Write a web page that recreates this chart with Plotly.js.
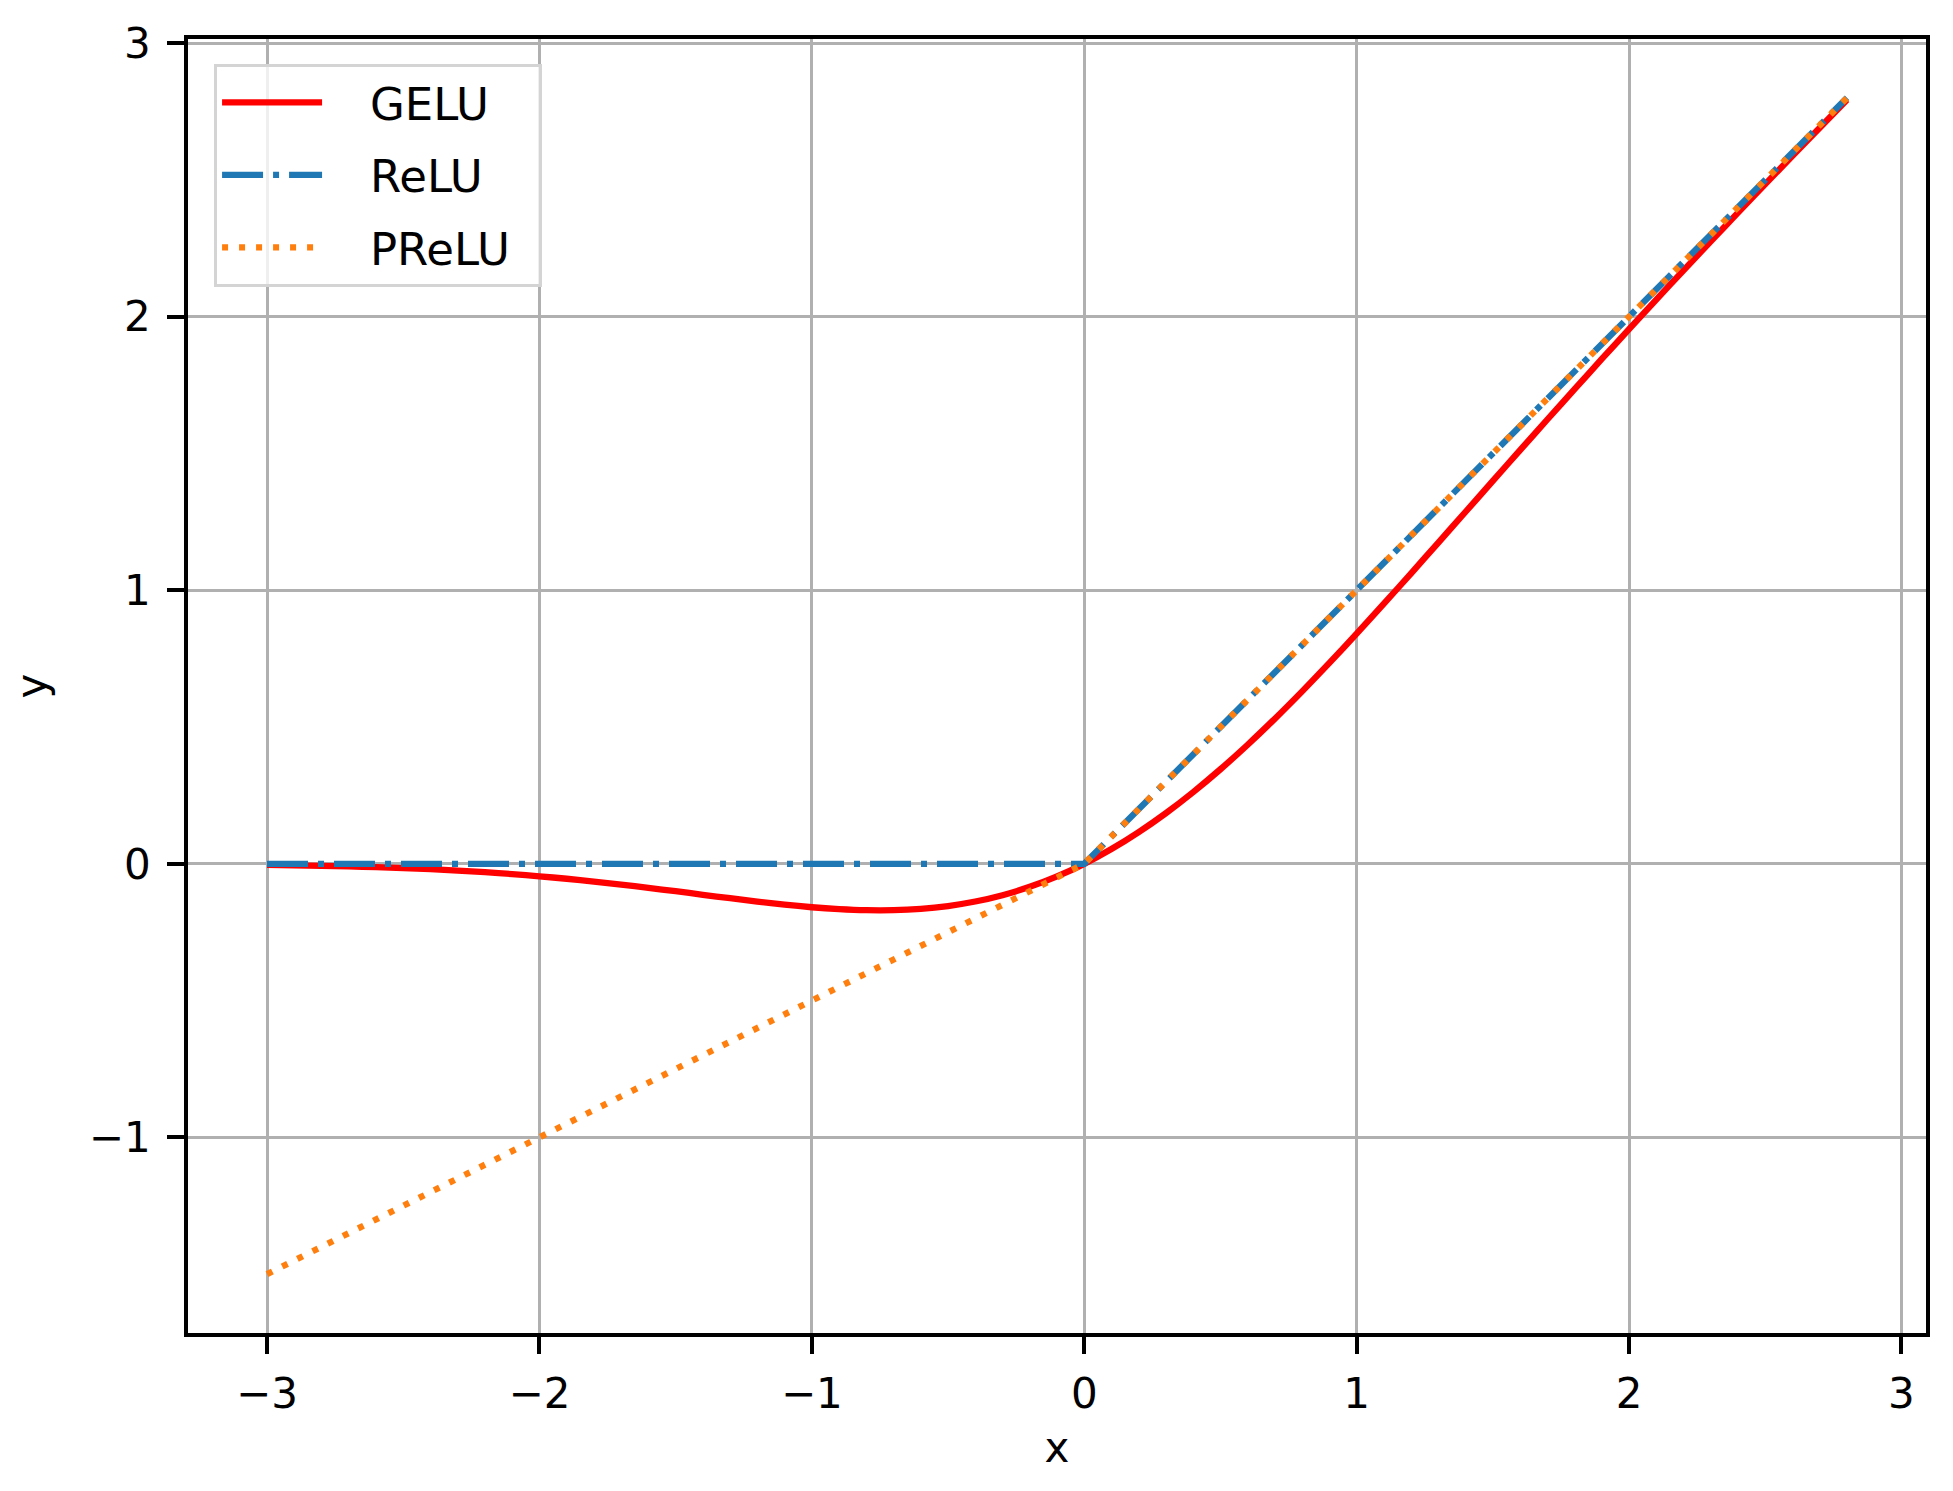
<!DOCTYPE html>
<html>
<head>
<meta charset="utf-8">
<script src="https://cdn.plot.ly/plotly-3.0.1.min.js"></script>
<style>
    html, body { margin: 0; padding: 0; background: #ffffff; }
    #chart { width: 1953px; height: 1491px; }
</style>
</head>
<body>
<div id="chart"></div>
<script>
// ── Data ──

const xValues = [
    -3.0, -2.9, -2.8, -2.7, -2.6, -2.5, -2.4, -2.3, -2.2, -2.1,
    -2.0, -1.9, -1.8, -1.7, -1.6, -1.5, -1.4, -1.3, -1.2, -1.1,
    -1.0, -0.9, -0.8, -0.7, -0.6, -0.5, -0.4, -0.3, -0.2, -0.1,
    0.0, 0.1, 0.2, 0.3, 0.4, 0.5, 0.6, 0.7, 0.8, 0.9,
    1.0, 1.1, 1.2, 1.3, 1.4, 1.5, 1.6, 1.7, 1.8, 1.9,
    2.0, 2.1, 2.2, 2.3, 2.4, 2.5, 2.6, 2.7, 2.8
];

const geluValues = [
    -0.0040, -0.0054, -0.0072, -0.0094, -0.0121, -0.0155, -0.0197, -0.0247, -0.0306, -0.0375,
    -0.0455, -0.0546, -0.0647, -0.0758, -0.0877, -0.1002, -0.1131, -0.1258, -0.1381, -0.1492,
    -0.1587, -0.1657, -0.1695, -0.1694, -0.1646, -0.1543, -0.1378, -0.1146, -0.0841, -0.0460,
    0.0000, 0.0540, 0.1159, 0.1854, 0.2622, 0.3457, 0.4354, 0.5306, 0.6305, 0.7343,
    0.8413, 0.9508, 1.0619, 1.1742, 1.2869, 1.3998, 1.5123, 1.6242, 1.7353, 1.8454,
    1.9545, 2.0625, 2.1694, 2.2753, 2.3803, 2.4845, 2.5879, 2.6906, 2.7928
];

const reluValues = [
    0, 0, 0, 0, 0, 0, 0, 0, 0, 0,
    0, 0, 0, 0, 0, 0, 0, 0, 0, 0,
    0, 0, 0, 0, 0, 0, 0, 0, 0, 0,
    0.0, 0.1, 0.2, 0.3, 0.4, 0.5, 0.6, 0.7, 0.8, 0.9,
    1.0, 1.1, 1.2, 1.3, 1.4, 1.5, 1.6, 1.7, 1.8, 1.9,
    2.0, 2.1, 2.2, 2.3, 2.4, 2.5, 2.6, 2.7, 2.8
];

const preluValues = [
    -1.50, -1.45, -1.40, -1.35, -1.30, -1.25, -1.20, -1.15, -1.10, -1.05,
    -1.00, -0.95, -0.90, -0.85, -0.80, -0.75, -0.70, -0.65, -0.60, -0.55,
    -0.50, -0.45, -0.40, -0.35, -0.30, -0.25, -0.20, -0.15, -0.10, -0.05,
    0.0, 0.1, 0.2, 0.3, 0.4, 0.5, 0.6, 0.7, 0.8, 0.9,
    1.0, 1.1, 1.2, 1.3, 1.4, 1.5, 1.6, 1.7, 1.8, 1.9,
    2.0, 2.1, 2.2, 2.3, 2.4, 2.5, 2.6, 2.7, 2.8
];

const seriesNames = ['GELU', 'ReLU', 'PReLU'];
const xTicks = [-3, -2, -1, 0, 1, 2, 3];
const yTicks = [-1, 0, 1, 2, 3];

// ── Style ──

const FONT = 'DejaVu Sans, Liberation Sans, sans-serif';
const LINE_W = 6.3;
const GRID_W = 3.4;

// gap between the legend line sample and its label (non-breaking spaces)
const padName = (name) => '\u00a0\u00a0\u00a0' + name + '\u00a0\u2009';

const traces = [
    {
        x: xValues, y: geluValues, name: padName(seriesNames[0]), legendgroup: 'g0',
        type: 'scatter', mode: 'lines',
        line: { color: '#ff0000', width: LINE_W, shape: 'spline', smoothing: 0.6 },
    },
    {
        x: xValues, y: reluValues, name: padName(seriesNames[1]), legendgroup: 'g1',
        type: 'scatter', mode: 'lines',
        line: { color: '#1f77b4', width: LINE_W, dash: '41px,10px,6px,10px' },
    },
    {
        x: xValues, y: preluValues, name: padName(seriesNames[2]), legendgroup: 'g2',
        type: 'scatter', mode: 'lines',
        line: { color: '#ff7f0e', width: LINE_W, dash: '6px,11px' },
    },
];

const axisCommon = {
    showline: true,
    linecolor: '#000000',
    linewidth: 3.8,
    mirror: true,
    showgrid: true,
    gridcolor: '#b0b0b0',
    gridwidth: GRID_W,
    zeroline: false,
    ticks: 'outside',
    ticklen: 17,
    tickwidth: 3.8,
    tickcolor: '#000000',
    tickfont: { family: FONT, size: 42, color: '#000000' },
    tickmode: 'array',
};

const layout = {
    width: 1953,
    height: 1491,
    paper_bgcolor: '#ffffff',
    plot_bgcolor: '#ffffff',
    margin: { l: 188, r: 27, t: 39, b: 158 },
    showlegend: true,
    legend: {
        x: 0.015, y: 0.981,
        xanchor: 'left', yanchor: 'top',
        bgcolor: 'rgba(255,255,255,0.8)',
        bordercolor: '#d4d4d4',
        borderwidth: 3,
        font: { family: FONT, size: 45, color: '#000000' },
        itemwidth: 100,
        traceorder: 'grouped',
        tracegroupgap: 11,
    },
    xaxis: Object.assign({}, axisCommon, {
        range: [-3.29, 3.09],
        tickvals: xTicks,
        ticklabelstandoff: 4,
        title: { text: 'x', font: { family: FONT, size: 42, color: '#000000' }, standoff: 16 },
    }),
    yaxis: Object.assign({}, axisCommon, {
        range: [-1.715, 3.015],
        tickvals: yTicks,
        ticklabelstandoff: 8,
        title: { text: 'y', font: { family: FONT, size: 42, color: '#000000' }, standoff: 30 },
    }),
};

Plotly.newPlot('chart', traces, layout, { displayModeBar: false, responsive: false });
</script>
</body>
</html>
